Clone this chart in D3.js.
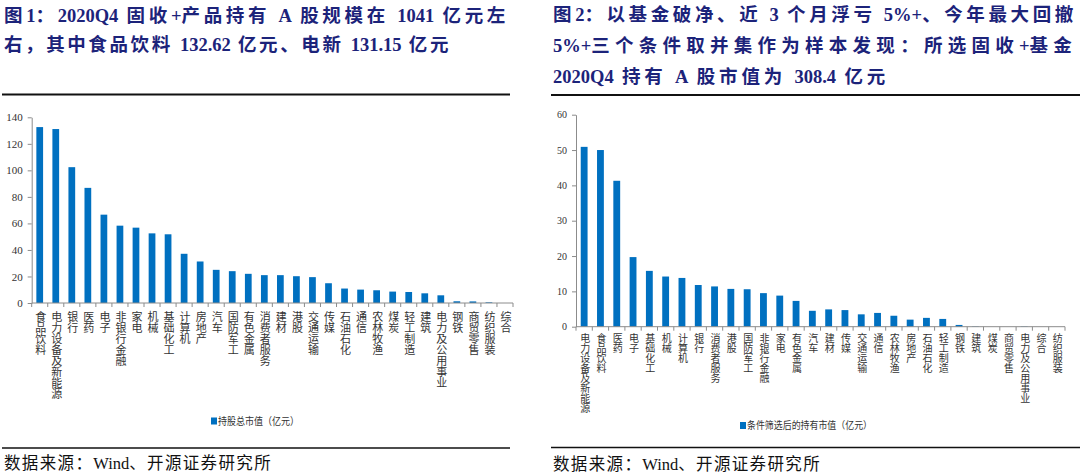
<!DOCTYPE html>
<html>
<head>
<meta charset="utf-8">
<script src="https://cdn.jsdelivr.net/npm/d3@7"></script>
<style>
  html, body { margin: 0; padding: 0; background: #fff; }
  svg { display: block; }
  .vlabel { writing-mode: vertical-rl; text-orientation: upright; }
  text { white-space: pre; }
</style>
</head>
<body>
<svg id="chart" width="1080" height="474"></svg>
<script>
// ---------- data ----------
const leftCategories = ["食品饮料","电力设备及新能源","银行","医药","电子","非银行金融","家电","机械","基础化工","计算机","房地产","汽车","国防军工","有色金属","消费者服务","建材","港股","交通运输","传媒","石油石化","通信","农林牧渔","煤炭","轻工制造","建筑","电力及公用事业","钢铁","商贸零售","纺织服装","综合"];
const leftValues = [132.62,131.15,102.4,86.8,66.6,58.3,56.8,52.5,51.8,37.1,31.3,25.0,24.0,22.0,21.0,21.0,20.2,19.5,14.9,10.9,10.1,9.6,8.6,8.3,7.3,5.8,1.3,1.2,0.5,0];
const leftTicks = [0,20,40,60,80,100,120,140];
const leftLegend = "持股总市值（亿元）";
const leftTitle1 = "图1：2020Q4 固收+产品持有 A 股规模在 1041 亿元左";
const leftTitle2 = "右，其中食品饮料 132.62 亿元、电新 131.15 亿元";

const rightCategories = ["电力设备及新能源","食品饮料","医药","电子","基础化工","机械","计算机","银行","消费者服务","港股","国防军工","非银行金融","家电","有色金属","汽车","建材","传媒","交通运输","通信","农林牧渔","房地产","石油石化","轻工制造","钢铁","建筑","煤炭","商贸零售","电力及公用事业","综合","纺织服装"];
const rightValues = [50.9,50.0,41.3,19.7,15.8,14.2,13.8,11.8,11.4,10.7,10.6,9.5,8.8,7.3,4.5,4.9,4.7,3.5,3.9,3.1,2.0,2.5,2.2,0.5,0.1,0,0,0.1,0,0];
const rightTicks = [0,10,20,30,40,50,60];
const rightLegend = "条件筛选后的持有市值（亿元）";
const rightTitle1 = "图2：以基金破净、近 3 个月浮亏 5%+、今年最大回撤";
const rightTitle2 = "5%+三个条件取并集作为样本发现：所选固收+基金";
const rightTitle3 = "2020Q4 持有 A 股市值为 308.4 亿元";

const sourceText = "数据来源：Wind、开源证券研究所";

// ---------- styles ----------
const BAR = "#0070C0";
const AXIS = "#8c8c8c";
const TITLE = "#1c237a";
const FONT = "'Liberation Serif', 'Noto Sans CJK SC', serif";

const svg = d3.select("#chart");

// justified text: Latin runs stay compact, CJK runs get letter spacing
function justified(str, x, y, target, attrs) {
  const el = svg.append("text").attr("x", x).attr("y", y);
  Object.entries(attrs).forEach(([k, v]) => el.attr(k, v));
  const runs = str.match(/[A-Za-z0-9.%+]+|[^A-Za-z0-9.%+]+/g);
  const spans = runs.map(r => ({ r, latin: /^[A-Za-z0-9.%+]+$/.test(r),
    el: el.append("tspan").text(r) }));
  const natural = el.node().getComputedTextLength();
  let k = 0;
  spans.forEach(s => { if (!s.latin) k += s.r.length; });
  const ls = k ? (target - natural) / k : 0;
  spans.forEach(s => { if (!s.latin) s.el.attr("letter-spacing", ls); });
  return el;
}

function title(lines, x, ys, widths) {
  lines.forEach((t, i) => {
    justified(t, x, ys[i], widths[i], {
      "font-family": FONT, "font-weight": 700, "font-size": 18.5, "fill": TITLE
    });
  });
}

function rule(x1, x2, y, w) {
  svg.append("line").attr("x1", x1).attr("x2", x2).attr("y1", y).attr("y2", y)
    .attr("stroke", "#111").attr("stroke-width", w);
}

function panel(o) {
  const x = d3.scaleBand().domain(o.categories).range([o.x0, o.x1]).paddingInner(0.58).paddingOuter(0.29);
  const y = d3.scaleLinear().domain([0, o.max]).range([o.yBottom, o.yTop]);
  const g = svg.append("g");

  g.selectAll("rect.bar").data(o.values).join("rect")
    .attr("class", "bar")
    .attr("x", (d, i) => x(o.categories[i]))
    .attr("y", d => y(d))
    .attr("width", x.bandwidth())
    .attr("height", d => y(0) - y(d))
    .attr("fill", BAR);

  const ya = g.append("g").attr("transform", `translate(${o.x0},0)`)
    .call(d3.axisLeft(y).tickValues(o.ticks).tickSize(4).tickSizeOuter(0).tickPadding(5));
  ya.select(".domain").attr("stroke", AXIS);
  ya.selectAll(".tick line").attr("stroke", AXIS);
  ya.selectAll(".tick text").attr("font-family", FONT).attr("font-size", o.tickFont).attr("fill", "#333");

  const step = x.step();
  const n = o.categories.length;
  g.append("line").attr("x1", o.x0).attr("x2", o.x0 + step * n)
    .attr("y1", y(0)).attr("y2", y(0)).attr("stroke", AXIS);
  g.selectAll("line.xt").data(d3.range(n + 1)).join("line")
    .attr("class", "xt")
    .attr("x1", i => o.x0 + i * step).attr("x2", i => o.x0 + i * step)
    .attr("y1", y(0)).attr("y2", y(0) + 4)
    .attr("stroke", AXIS);

  g.selectAll("text.cat").data(o.categories).join("text")
    .attr("class", "cat vlabel")
    .attr("x", d => x(d) + x.bandwidth() / 2)
    .attr("y", y(0) + o.labelGap)
    .attr("font-family", FONT)
    .attr("font-size", o.labelFont)
    .attr("fill", "#333")
    .text(d => d);

  svg.append("rect").attr("x", o.legendX).attr("y", o.legendY - 3.5).attr("width", 6).attr("height", 7).attr("fill", BAR);
  svg.append("text").attr("x", o.legendX + 7).attr("y", o.legendY)
    .attr("dominant-baseline", "central")
    .attr("font-family", FONT).attr("font-size", o.legendFont).attr("fill", "#333")
    .attr("textLength", o.legendWidth).attr("lengthAdjust", "spacingAndGlyphs")
    .text(o.legend);
}

// ---------- left ----------
title([leftTitle1, leftTitle2], 4, [22, 51], [504, 447]);
rule(2, 510, 94.5, 2);
panel({
  categories: leftCategories, values: leftValues, ticks: leftTicks, max: 140,
  x0: 31.7, x1: 513, yBottom: 303, yTop: 117.3,
  tickFont: 11, labelFont: 11, labelGap: 8,
  legend: leftLegend, legendX: 211, legendY: 421, legendFont: 10.5, legendWidth: 81
});
rule(2, 510, 448, 1.5);
justified(sourceText, 4, 469, 268, { "font-family": FONT, "font-size": 16.5, "fill": "#111" });

// ---------- right ----------
title([rightTitle1, rightTitle2, rightTitle3], 553, [21, 52, 83], [524, 524, 335]);
rule(551, 1080, 95, 2);
panel({
  categories: rightCategories, values: rightValues, ticks: rightTicks, max: 60,
  x0: 576, x1: 1065, yBottom: 326.7, yTop: 114.7,
  tickFont: 10, labelFont: 10, labelGap: 7,
  legend: rightLegend, legendX: 740, legendY: 425.5, legendFont: 10, legendWidth: 125
});
rule(551, 1080, 447.5, 1.5);
justified(sourceText, 553, 470, 268, { "font-family": FONT, "font-size": 16.5, "fill": "#111" });
</script>
</body>
</html>
